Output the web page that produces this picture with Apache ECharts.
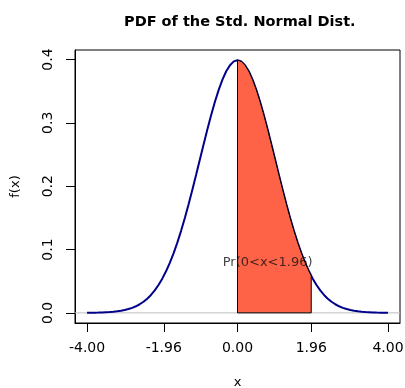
<!DOCTYPE html>
<html><head><meta charset="utf-8">
<script src="https://cdn.jsdelivr.net/npm/echarts@6/dist/echarts.min.js"></script>
<style>html,body{margin:0;padding:0;background:#fff}#c{width:405px;height:388px}</style>
</head><body><div id="c"></div>
<script>
// x grid of the density curve (step 0.1 from -4 to 4)
const curveX = [-4.0,-3.9,-3.8,-3.7,-3.6,-3.5,-3.4,-3.3,-3.2,-3.1,-3.0,-2.9,-2.8,-2.7,-2.6,-2.5,-2.4,-2.3,-2.2,-2.1,-2.0,-1.9,-1.8,-1.7,-1.6,-1.5,-1.4,-1.3,-1.2,-1.1,-1.0,-0.9,-0.8,-0.7,-0.6,-0.5,-0.4,-0.3,-0.2,-0.1,0.0,0.1,0.2,0.3,0.4,0.5,0.6,0.7,0.8,0.9,1.0,1.1,1.2,1.3,1.4,1.5,1.6,1.7,1.8,1.9,2.0,2.1,2.2,2.3,2.4,2.5,2.6,2.7,2.8,2.9,3.0,3.1,3.2,3.3,3.4,3.5,3.6,3.7,3.8,3.9,4.0];
const curveY = [0.0001,0.0002,0.0003,0.0004,0.0006,0.0009,0.0012,0.0017,0.0024,0.0033,0.0044,0.0060,0.0079,0.0104,0.0136,0.0175,0.0224,0.0283,0.0355,0.0440,0.0540,0.0656,0.0790,0.0940,0.1109,0.1295,0.1497,0.1714,0.1942,0.2179,0.2420,0.2661,0.2897,0.3123,0.3332,0.3521,0.3683,0.3814,0.3910,0.3970,0.3989,0.3970,0.3910,0.3814,0.3683,0.3521,0.3332,0.3123,0.2897,0.2661,0.2420,0.2179,0.1942,0.1714,0.1497,0.1295,0.1109,0.0940,0.0790,0.0656,0.0540,0.0440,0.0355,0.0283,0.0224,0.0175,0.0136,0.0104,0.0079,0.0060,0.0044,0.0033,0.0024,0.0017,0.0012,0.0009,0.0006,0.0004,0.0003,0.0002,0.0001];
// shaded region polygon (0 < x < 1.96)
const shadeX = [0.0,0.0,0.1,0.2,0.3,0.4,0.5,0.6,0.7,0.8,0.9,1.0,1.1,1.2,1.3,1.4,1.5,1.6,1.7,1.8,1.9,1.96,1.96];
const shadeY = [0.0,0.3989,0.3970,0.3910,0.3814,0.3683,0.3521,0.3332,0.3123,0.2897,0.2661,0.2420,0.2179,0.1942,0.1714,0.1497,0.1295,0.1109,0.0940,0.0790,0.0656,0.0584,0.0];
const xTicks = [-4, -1.96, 0, 1.96, 4];
const yTicks = [0, 0.1, 0.2, 0.3, 0.4];
const labelPos = [0.8, 0.08];
const labelText = 'Pr(0<x<1.96)';
const titleText = 'PDF of the Std. Normal Dist.';

const FONT = 'DejaVu Sans';
const chart = echarts.init(document.getElementById('c'), null, {renderer: 'canvas'});
chart.setOption({
  animation: false,
  backgroundColor: '#fff',
  title: {text: titleText, left: 119, top: 10,
    textStyle: {fontFamily: FONT, fontSize: 14.5, fontWeight: 'bold', color: '#000'}},
  grid: {left: 75, right: 5, top: 50, bottom: 65, show: true, borderColor: '#000', borderWidth: 1,
    backgroundColor: 'transparent', containLabel: false, outerBoundsMode: 'none'},
  xAxis: {type: 'value', min: -4.32, max: 4.32, name: 'x', nameLocation: 'middle', nameGap: 53,
    nameTextStyle: {fontFamily: FONT, fontSize: 13, color: '#000'},
    splitLine: {show: false},
    axisLine: {show: true, onZero: false, lineStyle: {color: '#000', width: 1}},
    axisTick: {show: true, length: 9, customValues: xTicks, lineStyle: {color: '#000'}},
    axisLabel: {customValues: xTicks, margin: 18, fontFamily: FONT, fontSize: 14, color: '#000',
      formatter: v => v.toFixed(2)}},
  yAxis: {type: 'value', min: -0.016, max: 0.415, name: 'f(x)', nameLocation: 'middle', nameGap: 53, nameRotate: 90,
    nameTextStyle: {fontFamily: FONT, fontSize: 13, color: '#000'},
    splitLine: {show: false},
    axisLine: {show: true, onZero: false, lineStyle: {color: '#000', width: 1}},
    axisTick: {show: true, length: 9, customValues: yTicks, lineStyle: {color: '#000'}},
    axisLabel: {customValues: yTicks, rotate: 90, margin: 20, fontFamily: FONT, fontSize: 14, color: '#000',
      formatter: v => v.toFixed(1)}},
  series: [
    {type: 'line', data: curveX.map((x, i) => [x, curveY[i]]), showSymbol: false, smooth: false,
      lineStyle: {color: '#00008B', width: 2}, z: 2},
    {type: 'line', data: [[-4.32, 0], [4.32, 0]], showSymbol: false,
      lineStyle: {color: '#BEBEBE', width: 1}, z: 1},
    {type: 'custom', data: [0], z: 3,
      renderItem: (params, api) => ({
        type: 'polygon',
        shape: {points: shadeX.map((x, i) => api.coord([x, shadeY[i]]))},
        style: {fill: '#FF6347', stroke: '#000', lineWidth: 1}
      })},
    {type: 'scatter', data: [labelPos], symbolSize: 0, z: 4,
      label: {show: true, position: 'inside', formatter: labelText, fontFamily: FONT, fontSize: 13, color: '#111'}}
  ]
});
</script></body></html>
